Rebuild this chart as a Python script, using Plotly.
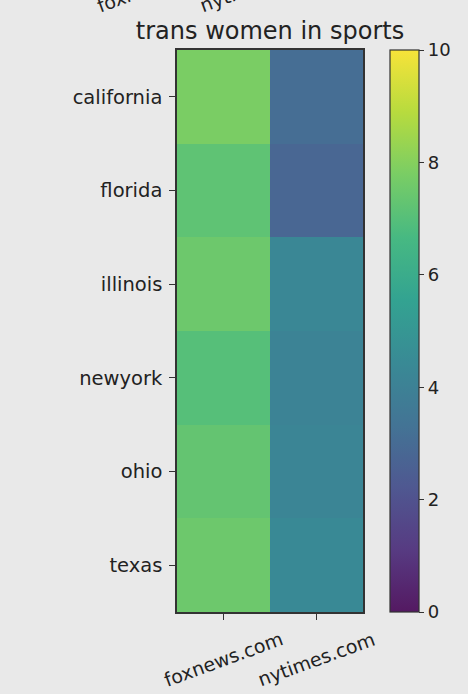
import plotly.graph_objects as go

# ---- data ----
states = ["california", "florida", "illinois", "newyork", "ohio", "texas"]
sites = ["foxnews.com", "nytimes.com"]
foxnews_vals = [7.8, 7.2, 7.5, 7.0, 7.3, 7.5]
nytimes_vals = [3.1, 2.8, 4.3, 4.1, 4.2, 4.4]
cbar_ticks = [0, 2, 4, 6, 8, 10]
title_text = "trans women in sports"

z = [[f, n] for f, n in zip(foxnews_vals, nytimes_vals)]

# viridis, slightly washed out like the screenshot
viridis = ["#440154", "#482878", "#3e4989", "#31688e", "#26828e",
           "#1f9e89", "#35b779", "#6ece58", "#b5de2b", "#fde725"]

def wash(hexc, amt=0.12, g=(200, 200, 200)):
    r, gg, b = int(hexc[1:3], 16), int(hexc[3:5], 16), int(hexc[5:7], 16)
    r = round(r * (1 - amt) + g[0] * amt)
    gg = round(gg * (1 - amt) + g[1] * amt)
    b = round(b * (1 - amt) + g[2] * amt)
    return f"rgb({r},{gg},{b})"

cscale = [[i / (len(viridis) - 1), wash(c)] for i, c in enumerate(viridis)]

W, H = 468, 694
x0, x1 = 177, 363
y0, y1 = 50, 612
font = "DejaVu Sans"
txt = "#222222"

fig = go.Figure(go.Heatmap(
    z=z, x=sites, y=states,
    zmin=0, zmax=10, colorscale=cscale,
    xgap=0, ygap=0,
    colorbar=dict(
        x=390 / W, xanchor="left", xref="paper",
        y=(H - y1) / H, yanchor="bottom", yref="paper",
        len=(y1 - y0) / H, lenmode="fraction",
        thickness=29, thicknessmode="pixels",
        outlinecolor="#333333", outlinewidth=1.2,
        tickvals=cbar_ticks, ticks="outside", ticklen=5, tickwidth=1,
        tickcolor="#333333",
        tickfont=dict(family=font, size=18, color=txt),
        xpad=0, ypad=0,
    ),
))

# x tick labels centred under their ticks (matplotlib style, rotated)
xlabels = [dict(text=s, x=s, xref="x", y=(H - 659) / H, yref="paper",
                xanchor="center", yanchor="middle", showarrow=False,
                textangle=-20, font=dict(family=font, size=19, color=txt))
           for s in sites]
# clipped labels of the chart above, peeking in at the top edge
top_pos = [(156, -15), (258, -15)]
toplabels = [dict(text=s, x=px / W, y=(H - py) / H, xref="paper", yref="paper",
                  xanchor="center", yanchor="middle", showarrow=False,
                  textangle=-20, font=dict(family=font, size=19, color=txt))
             for s, (px, py) in zip(sites, top_pos)]

fig.update_layout(
    width=W, height=H,
    margin=dict(l=0, r=0, t=0, b=0, autoexpand=False),
    paper_bgcolor="#e9e9e9", plot_bgcolor="#e9e9e9",
    font=dict(family=font, size=19, color=txt),
    title=dict(text=title_text, x=(x0 + x1) / 2 / W, xanchor="center",
               y=(H - 31) / H, yanchor="middle", automargin=False,
               font=dict(family=font, size=24, color=txt)),
    xaxis=dict(domain=[x0 / W, x1 / W], automargin=False, showticklabels=False,
               range=[-0.5, len(sites) - 0.5],
               ticks="outside", ticklen=6, tickcolor="#333333",
               showline=True, linecolor="#333333", linewidth=1.5, mirror=True,
               showgrid=False),
    yaxis=dict(domain=[(H - y1) / H, (H - y0) / H],
               range=[len(states) - 0.5, -0.5],
               automargin=False, ticklabelstandoff=3,
               ticks="outside", ticklen=6, tickcolor="#333333",
               showline=True, linecolor="#333333", linewidth=1.5, mirror=True,
               tickfont=dict(family=font, size=19.5, color=txt), showgrid=False),
    annotations=xlabels + toplabels,
)

fig.write_html("out.html")
